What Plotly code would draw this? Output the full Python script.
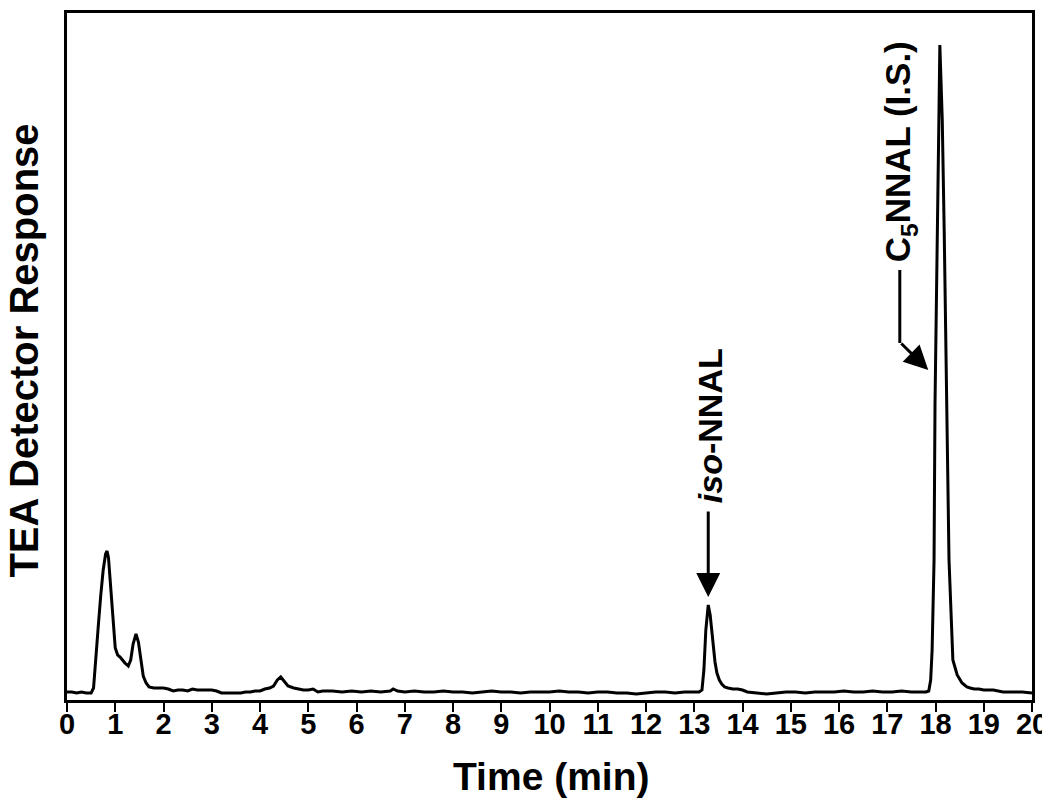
import plotly.graph_objects as go

# Chromatogram trace (time in min, detector response in arbitrary units)
time_min = [
    0.00, 0.10, 0.20, 0.30, 0.40, 0.50, 0.55, 0.60, 0.65, 0.70, 0.75, 0.80, 0.83, 0.86, 0.90, 0.95,
    1.00, 1.05, 1.10, 1.15, 1.20, 1.27, 1.32, 1.37, 1.43, 1.48, 1.53, 1.58, 1.64, 1.70, 1.80, 1.90,
    2.00, 2.10, 2.20, 2.30, 2.40, 2.50, 2.60, 2.70, 2.80, 2.90, 3.00, 3.10, 3.20, 3.30, 3.40, 3.50,
    3.60, 3.70, 3.80, 3.90, 4.00, 4.10, 4.20, 4.28, 4.36, 4.43, 4.50, 4.58, 4.70, 4.80, 4.90, 5.00,
    5.10, 5.20, 5.30, 5.50, 5.70, 5.90, 6.10, 6.30, 6.50, 6.70, 6.76, 6.85, 7.00, 7.20, 7.40, 7.60,
    7.80, 8.00, 8.20, 8.40, 8.60, 8.80, 9.00, 9.20, 9.40, 9.60, 9.80, 10.00, 10.20, 10.40, 10.60,
    10.80, 11.00, 11.20, 11.40, 11.60, 11.80, 12.00, 12.20, 12.40, 12.60, 12.80, 13.00, 13.10,
    13.16, 13.20, 13.24, 13.29, 13.33, 13.38, 13.43, 13.47, 13.52, 13.57, 13.63, 13.70, 13.80,
    13.90, 14.00, 14.10, 14.30, 14.50, 14.70, 14.90, 15.10, 15.30, 15.50, 15.70, 15.90, 16.10,
    16.30, 16.50, 16.70, 16.90, 17.10, 17.30, 17.50, 17.70, 17.80, 17.86, 17.90, 17.93, 17.97,
    17.99, 18.03, 18.07, 18.09, 18.14, 18.18, 18.24, 18.28, 18.36, 18.45, 18.55, 18.65, 18.72,
    18.80, 18.90, 19.00, 19.20, 19.40, 19.60, 19.80, 20.00,
]
response = [
    8, 8, 7, 8, 7, 7, 12, 40, 75, 105, 130, 146, 149, 142, 115, 80,
    52, 45, 43, 40, 37, 34, 40, 56, 66, 58, 38, 24, 17, 13, 12, 12,
    12, 11, 9, 10, 10, 9, 11, 10, 10, 10, 10, 9, 7, 7, 7, 7,
    7, 8, 8, 9, 9, 11, 12, 14, 20, 23, 19, 14, 12, 11, 10, 10,
    11, 8, 9, 9, 8, 9, 8, 9, 8, 9, 11, 9, 8, 9, 8, 8,
    9, 8, 8, 7, 8, 9, 8, 8, 7, 8, 8, 8, 9, 8, 8,
    7, 8, 8, 7, 7, 6, 7, 8, 8, 7, 8, 8, 8,
    10, 30, 70, 95, 85, 60, 38, 27, 20, 16, 13, 12, 11,
    11, 10, 8, 7, 6, 7, 8, 8, 7, 8, 8, 8, 9,
    8, 8, 9, 8, 8, 9, 8, 8, 8, 9, 20, 50, 140,
    297, 470, 580, 655, 580, 470, 297, 140, 40, 25, 17, 13, 12,
    11, 11, 10, 10, 8, 8, 8, 7,
]

x_ticks = list(range(0, 21))
peak_labels = ["<i>iso</i>-NNAL", "C<sub>5</sub>NNAL (I.S.)"]

FONT = "Liberation Sans, Arial, sans-serif"

fig = go.Figure()
fig.add_trace(go.Scatter(
    x=time_min, y=response, mode="lines",
    line=dict(color="black", width=3), hoverinfo="skip", showlegend=False,
))

# iso-NNAL label and arrow
fig.add_annotation(x=13.33, y=274, text="<b>" + peak_labels[0] + "</b>", textangle=-90,
                   showarrow=False, font=dict(family=FONT, size=34, color="black"),
                   xanchor="center", yanchor="middle")
fig.add_annotation(x=13.29, y=103, ax=13.29, ay=190, axref="x", ayref="y",
                   text="", showarrow=True, arrowhead=2, arrowsize=1.6, arrowwidth=3,
                   arrowcolor="black")

# C5NNAL (I.S.) label with bent arrow
fig.add_annotation(x=17.27, y=548, text="<b>" + peak_labels[1] + "</b>", textangle=-90,
                   showarrow=False, font=dict(family=FONT, size=35, color="black"),
                   xanchor="center", yanchor="middle")
fig.add_shape(type="line", x0=17.26, x1=17.26, y0=430, y1=357,
              line=dict(color="black", width=3))
fig.add_annotation(x=17.85, y=330, ax=17.26, ay=358, axref="x", ayref="y",
                   text="", showarrow=True, arrowhead=2, arrowsize=1.6, arrowwidth=3,
                   arrowcolor="black")

# axis titles
fig.add_annotation(xref="paper", yref="paper", x=-0.045, y=0.508,
                   text="<b>TEA Detector Response</b>", textangle=-90, showarrow=False,
                   font=dict(family=FONT, size=40, color="black"),
                   xanchor="center", yanchor="middle")
fig.add_annotation(xref="paper", yref="paper", x=0.5016, y=-0.112,
                   text="<b>Time (min)</b>", showarrow=False,
                   font=dict(family=FONT, size=39, color="black"),
                   xanchor="center", yanchor="middle")

fig.update_xaxes(range=[0, 20], tickmode="array", tickvals=x_ticks,
                 ticktext=[str(v) for v in x_ticks],
                 ticks="outside", ticklen=9, tickwidth=2, tickcolor="black",
                 tickfont=dict(family=FONT, size=29, color="black", weight="bold"),
                 ticklabelstandoff=-13,
                 showline=True, linewidth=2.5, linecolor="black", mirror=True,
                 showgrid=False, zeroline=False, automargin=False)
fig.update_yaxes(range=[0, 687], showticklabels=False, ticks="",
                 showline=True, linewidth=2.5, linecolor="black", mirror=True,
                 showgrid=False, zeroline=False, automargin=False)

# the page adds an 8px body margin, so the figure is sized to sit inside the window
fig.update_layout(
    width=1042, height=797,
    margin=dict(l=59, r=18, t=5, b=105, autoexpand=False),
    plot_bgcolor="white", paper_bgcolor="white",
)

fig.write_html("out.html")
